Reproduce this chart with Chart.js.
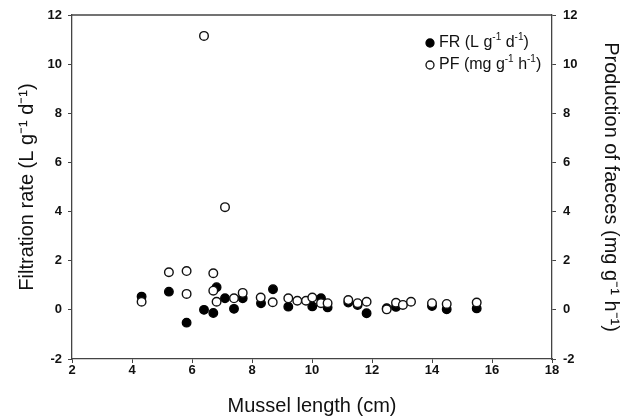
<!DOCTYPE html>
<html>
<head>
<meta charset="utf-8">
<script src="https://cdn.jsdelivr.net/npm/chart.js"></script>
<style>
  html, body { margin: 0; padding: 0; background: #fff; }
  #wrap { position: relative; width: 626px; height: 418px; }
</style>
</head>
<body>
<div id="wrap"><canvas id="chart" width="626" height="418"></canvas></div>
<script>
// values
const frLength = [4.32, 5.23, 5.82, 6.40, 6.71, 6.82, 7.10, 7.40, 7.69, 8.30, 8.70, 9.21, 10.01, 10.30, 10.52, 11.21, 11.52, 11.82, 12.49, 12.80, 14.00, 14.49, 15.49];
const frRate   = [0.54, 0.74, -0.52, 0.00, -0.13, 0.92, 0.47, 0.04, 0.47, 0.27, 0.84, 0.13, 0.14, 0.47, 0.10, 0.30, 0.20, -0.14, 0.07, 0.12, 0.16, 0.02, 0.06];

const pfLength = [4.32, 5.23, 5.82, 5.82, 6.40, 6.71, 6.71, 6.82, 7.10, 7.40, 7.69, 8.29, 8.69, 9.21, 9.51, 9.80, 10.01, 10.30, 10.52, 11.21, 11.52, 11.82, 12.49, 12.80, 13.03, 13.30, 14.00, 14.49, 15.49];
const pfFaeces = [0.33, 1.53, 1.58, 0.65, 11.15, 1.49, 0.78, 0.33, 4.18, 0.47, 0.69, 0.50, 0.31, 0.47, 0.37, 0.37, 0.50, 0.27, 0.27, 0.40, 0.27, 0.33, 0.02, 0.29, 0.20, 0.33, 0.27, 0.24, 0.30];

const xTicks = [2, 4, 6, 8, 10, 12, 14, 16, 18];
const yTicks = [-2, 0, 2, 4, 6, 8, 10, 12];

// legend text pieces; second entry of each pair is a superscript
const legendParts = [
  [['FR (L g', false], ['-1', true], [' d', false], ['-1', true], [')', false]],
  [['PF (mg g', false], ['-1', true], [' h', false], ['-1', true], [')', false]]
];

const toPoints = (xs, ys) => xs.map((x, i) => ({ x: x, y: ys[i] }));

const FONT = "'Liberation Sans', Arial, sans-serif";
const AXIS = '#444';

// legend drawn inside the plot, top right
const insideLegend = {
  id: 'insideLegend',
  afterDatasetsDraw(chart) {
    const ctx = chart.ctx;
    const area = chart.chartArea;
    ctx.save();
    ctx.textBaseline = 'middle';
    chart.data.datasets.forEach((ds, i) => {
      const cx = area.right - 122;
      const cy = area.top + 28 + i * 22;
      ctx.beginPath();
      ctx.arc(cx, cy, 4, 0, Math.PI * 2);
      ctx.fillStyle = ds.backgroundColor;
      ctx.fill();
      ctx.lineWidth = 1.3;
      ctx.strokeStyle = ds.borderColor;
      ctx.stroke();
      ctx.fillStyle = '#111';
      let x = cx + 9;
      legendParts[i].forEach(([t, sup]) => {
        ctx.font = (sup ? '10px ' : '16px ') + FONT;
        ctx.fillText(t, x, sup ? cy - 6 : cy);
        x += ctx.measureText(t).width;
      });
    });
    ctx.restore();
  }
};

const tickFont = { family: FONT, size: 13, weight: 'bold' };
const titleFont = { family: FONT, size: 20 };

function yScale(position, title) {
  const left = position === 'left';
  return {
    type: 'linear',
    position: position,
    min: -2,
    max: 12,
    afterBuildTicks: s => { s.ticks = yTicks.map(v => ({ value: v })); },
    ticks: { font: tickFont, color: '#111', padding: left ? 6 : 7 },
    grid: { drawOnChartArea: false, tickLength: 4, color: AXIS, tickColor: AXIS },
    border: { color: AXIS, width: 1.3 },
    title: { display: true, text: title, font: titleFont, color: '#111', padding: { top: left ? 15 : 3, bottom: 0 } },
    afterFit: s => { s.width = left ? 72 : 74; }
  };
}

new Chart(document.getElementById('chart'), {
  type: 'scatter',
  data: {
    datasets: [
      {
        label: 'FR',
        data: toPoints(frLength, frRate),
        yAxisID: 'y',
        backgroundColor: '#000',
        borderColor: '#000',
        pointRadius: 4.3,
        borderWidth: 1.3,
        order: 1
      },
      {
        label: 'PF',
        data: toPoints(pfLength, pfFaeces),
        yAxisID: 'y2',
        backgroundColor: '#fff',
        borderColor: '#111',
        pointRadius: 4.3,
        borderWidth: 1.4,
        order: 0
      }
    ]
  },
  options: {
    responsive: false,
    animation: false,
    devicePixelRatio: 1,
    layout: { padding: { top: 15, left: 0, right: 0, bottom: 0 } },
    scales: {
      x: {
        type: 'linear',
        min: 2,
        max: 18,
        afterBuildTicks: s => { s.ticks = xTicks.map(v => ({ value: v })); },
        ticks: { font: tickFont, color: '#111', padding: 0, maxRotation: 0 },
        grid: { drawOnChartArea: false, tickLength: 4, color: AXIS, tickColor: AXIS },
        border: { color: AXIS, width: 1.3 },
        title: { display: true, text: 'Mussel length (cm)', font: titleFont, color: '#111', padding: { top: 0, bottom: 0 } },
        afterFit: s => { s.height = 59; }
      },
      y: yScale('left', 'Filtration rate (L g\u207B\u00B9 d\u207B\u00B9)'),
      y2: yScale('right', 'Production of faeces (mg g\u207B\u00B9 h\u207B\u00B9)')
    },
    plugins: {
      legend: { display: false },
      tooltip: { enabled: false }
    }
  },
  plugins: [insideLegend, {
    id: 'topBorder',
    afterDraw(chart) {
      const { ctx, chartArea } = chart;
      ctx.save();
      ctx.strokeStyle = AXIS;
      ctx.lineWidth = 1.3;
      ctx.beginPath();
      ctx.moveTo(chartArea.left, chartArea.top);
      ctx.lineTo(chartArea.right, chartArea.top);
      ctx.stroke();
      ctx.restore();
    }
  }]
});
</script>
</body>
</html>
